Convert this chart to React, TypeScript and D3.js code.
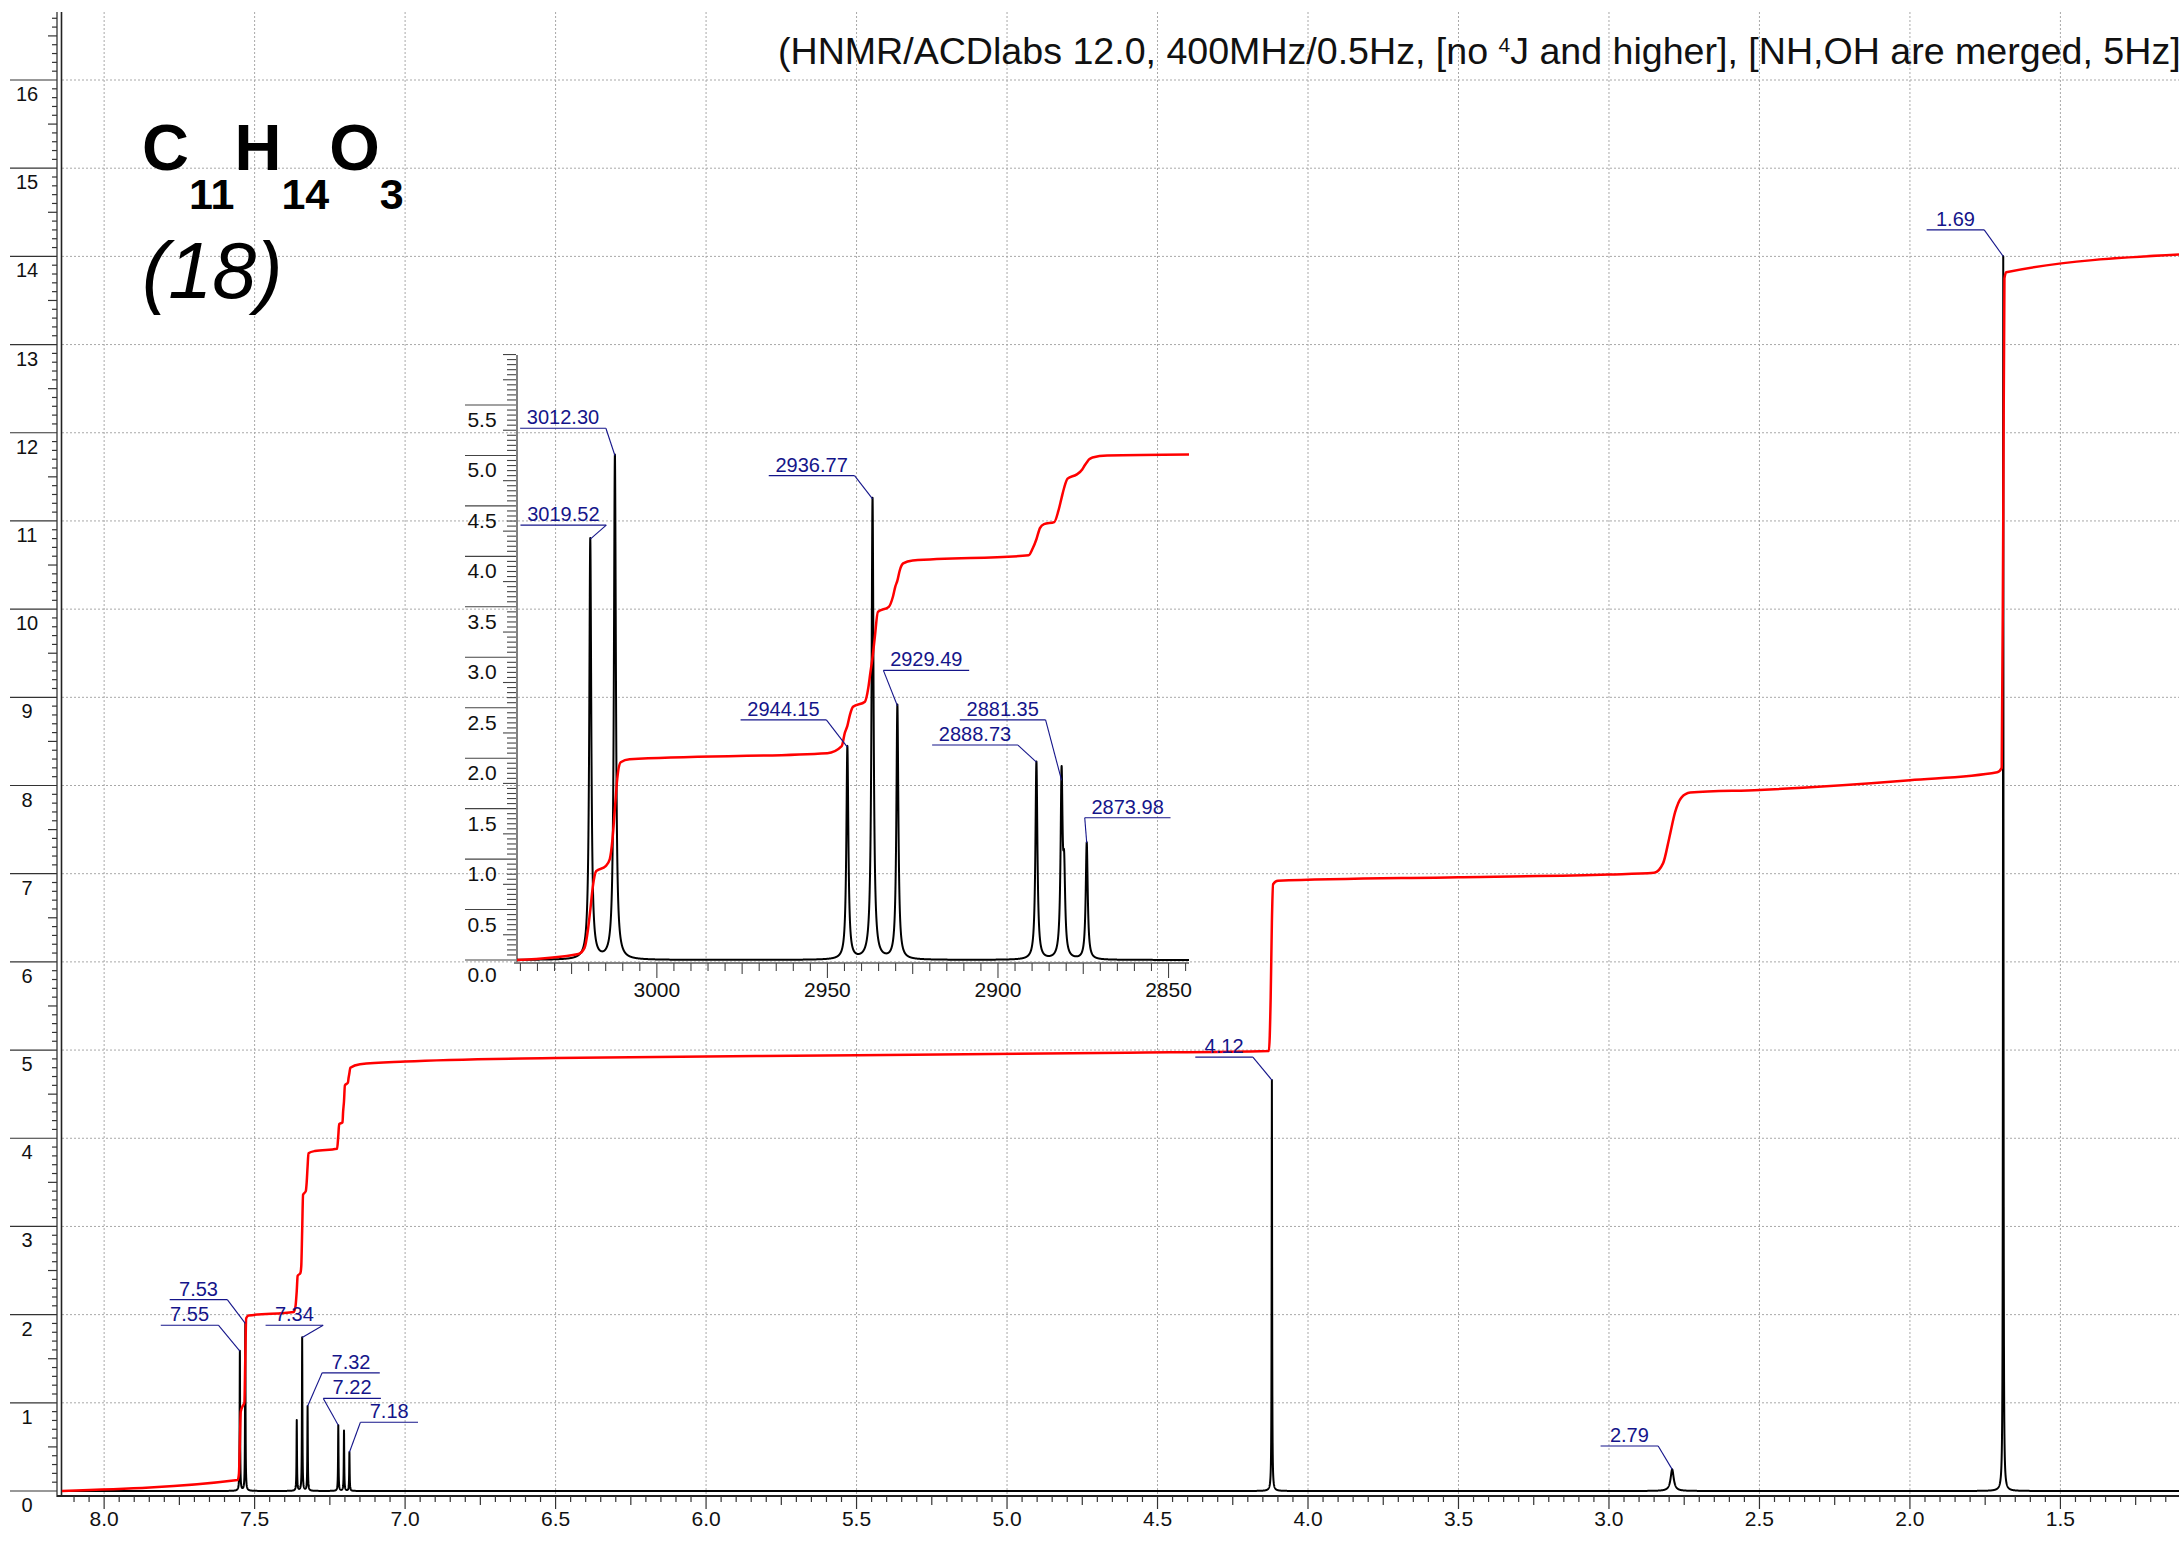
import React, { useMemo } from 'react';
import * as d3 from 'd3';

const W = 2179;
const H = 1543;

// ---- main spectrum peaks (ppm) ----
const mainPeakPpm = [7.549, 7.531, 7.36, 7.342, 7.324, 7.222, 7.203, 7.185, 4.12, 2.79, 1.69];
const mainPeakHeight = [1.585, 1.9, 0.8, 1.74, 0.96, 0.745, 0.684, 0.44, 4.66, 0.245, 14.0];
const mainPeakWidthHz = [0.7, 0.7, 0.7, 0.7, 0.7, 0.7, 0.7, 0.7, 0.7, 5, 0.7];

// ---- inset peaks (Hz) ----
const insetPeakHz = [3019.52, 3012.3, 2944.15, 2936.77, 2929.49, 2888.73, 2881.35, 2880.6, 2873.98];
const insetPeakHeight = [4.17, 5.0, 2.11, 4.57, 2.52, 1.96, 1.78, 0.75, 1.16];
const insetPeakWidthHz = 0.7;

// ---- peak labels ----
const mainLabelText = ['7.55', '7.53', '7.34', '7.32', '7.22', '7.18', '4.12', '2.79', '1.69'];
const mainLabelPeak = [0, 1, 3, 4, 5, 7, 8, 9, 10];
const insetLabelText = ['3019.52', '3012.30', '2944.15', '2936.77', '2929.49', '2888.73', '2881.35', '2873.98'];
const insetLabelPeak = [0, 1, 2, 3, 4, 5, 6, 8];

// label layout (level in axis units, attached end, pixel offset of that end from the peak)
const mainLabelLevel = [1.88, 2.17, 1.88, 1.34, 1.05, 0.78, 4.92, 0.51, 14.3];
const mainLabelEnd = ['r', 'r', 'r', 'l', 'l', 'l', 'r', 'r', 'r'];
const mainLabelDx = [-21.5, -18, 21, 14.6, -15, 11, -19, -14, -19];
const insetLabelLevel = [4.31, 5.27, 2.38, 4.8, 2.87, 2.13, 2.38, 1.41];
const insetLabelEnd = ['r', 'r', 'r', 'r', 'l', 'r', 'r', 'l'];
const insetLabelDx = [16, -9, -21, -18, -14, -18.5, -16, -2];

// ---- integral curves ----
const mainIntegral: [number, number][] = [
  [8.14, 0.0], [7.556, 0.125], [7.552, 0.2], [7.549, 0.55], [7.546, 0.9], [7.54, 0.96],
  [7.534, 1.0], [7.531, 1.5], [7.528, 1.96], [7.52, 1.99], [7.37, 2.03], [7.364, 2.1],
  [7.36, 2.27], [7.357, 2.44], [7.348, 2.47], [7.345, 2.55], [7.342, 2.95], [7.339, 3.36],
  [7.33, 3.4], [7.327, 3.5], [7.324, 3.68], [7.321, 3.83], [7.3, 3.855], [7.226, 3.88],
  [7.222, 4.03], [7.219, 4.16], [7.208, 4.18], [7.206, 4.3], [7.203, 4.42], [7.2, 4.6],
  [7.19, 4.63], [7.188, 4.68], [7.185, 4.74], [7.182, 4.8], [7.15, 4.84], [7.0, 4.87],
  [6.5, 4.91], [5.5, 4.94], [4.6, 4.97], [4.13, 4.99], [4.124, 5.6], [4.12, 6.45],
  [4.116, 6.88], [4.1, 6.92], [3.5, 6.96], [3.0, 6.99], [2.85, 7.01], [2.82, 7.12],
  [2.8, 7.4], [2.78, 7.7], [2.76, 7.86], [2.73, 7.92], [2.5, 7.95], [2.0, 8.06],
  [1.71, 8.15], [1.695, 8.2], [1.69, 11.0], [1.686, 13.75], [1.68, 13.82], [1.106, 14.02],
];
const insetIntegral: [number, number][] = [
  [3041, 0.0], [3023, 0.06], [3021.2, 0.12], [3020.2, 0.3], [3019.5, 0.5], [3018.8, 0.72],
  [3017.8, 0.88], [3015, 0.93], [3013.8, 1.0], [3013, 1.2], [3012.3, 1.5], [3011.6, 1.8],
  [3010.6, 1.96], [3008, 1.99], [2950, 2.05], [2945.8, 2.12], [2944.9, 2.25], [2944.15, 2.32],
  [2943.4, 2.43], [2942.5, 2.51], [2939, 2.56], [2938, 2.7], [2937.4, 2.85], [2936.77, 3.0],
  [2936.1, 3.2], [2935.2, 3.45], [2932, 3.5], [2930.8, 3.6], [2930.1, 3.7], [2929.49, 3.76],
  [2928.8, 3.86], [2927.8, 3.93], [2925, 3.96], [2891, 4.01], [2889.8, 4.08], [2888.73, 4.17],
  [2887.7, 4.28], [2886.5, 4.32], [2883.5, 4.34], [2882.3, 4.45], [2881.35, 4.58], [2880.6, 4.68],
  [2879.6, 4.77], [2877, 4.81], [2875.3, 4.86], [2874.6, 4.9], [2873.98, 4.93], [2873.3, 4.96],
  [2872.3, 4.98], [2868, 5.0], [2844, 5.01],
];

const FONT = "'Liberation Sans', Arial, Helvetica, sans-serif";
const NAVY = '#15158a';
const GRID = '#a8a8a8';

const xMain = d3.scaleLinear().domain([8.14, 1.106]).range([62, 2179]);
const yMain = d3.scaleLinear().domain([0, 16]).range([1491, 80]);
const xIn = d3.scaleLinear().domain([3041, 2844]).range([517, 1189]);
const yIn = d3.scaleLinear().domain([0, 5.5]).range([960, 405]);

function lorentzSum(x: number, pos: number[], h: number[], hw: number[]) {
  let s = 0;
  for (let i = 0; i < pos.length; i++) {
    const d = x - pos[i];
    s += (h[i] * hw[i] * hw[i]) / (d * d + hw[i] * hw[i]);
  }
  return s;
}

function labelW(t: string) {
  return 20 + 9.4 * t.length;
}

export default function App() {
  const mainPath = useMemo(() => {
    const hw = mainPeakWidthHz.map((w) => w / 400 / 2);
    const xs: number[] = [];
    for (let v = 8.14; v >= 1.106; v -= 0.0004) xs.push(v);
    mainPeakPpm.forEach((p) => xs.push(p));
    xs.sort((a, b) => b - a);
    const pts: [number, number][] = xs.map((v) => [xMain(v), yMain(lorentzSum(v, mainPeakPpm, mainPeakHeight, hw))]);
    return d3.line()(pts) || '';
  }, []);

  const insetPath = useMemo(() => {
    const hw = insetPeakHz.map(() => insetPeakWidthHz / 2);
    const xs: number[] = [];
    for (let v = 3041; v >= 2844; v -= 0.02) xs.push(v);
    insetPeakHz.forEach((p) => xs.push(p));
    xs.sort((a, b) => b - a);
    const pts: [number, number][] = xs.map((v) => [xIn(v), yIn(lorentzSum(v, insetPeakHz, insetPeakHeight, hw))]);
    return d3.line()(pts) || '';
  }, []);

  const mainIntPath =
    d3
      .line<[number, number]>()
      .x((d) => xMain(d[0]))
      .y((d) => yMain(d[1]))
      .curve(d3.curveMonotoneX)(mainIntegral) || '';
  const insetIntPath =
    d3
      .line<[number, number]>()
      .x((d) => xIn(d[0]))
      .y((d) => yIn(d[1]))
      .curve(d3.curveMonotoneX)(insetIntegral) || '';

  // axis ticks
  const xTicks = d3.range(23, 163).map((k) => ({ v: k / 20, major: k % 10 === 0, med: k % 5 === 0 }));
  const yTicks = d3.range(0, 168).map((k) => ({ v: k / 10, major: k % 10 === 0, med: k % 5 === 0 }));
  const inXTicks = d3.range(569, 609).map((k) => ({ v: k * 5, major: (k * 5) % 50 === 0, med: (k * 5) % 25 === 0 }));
  const inYTicks = d3.range(0, 121).map((k) => ({ v: k / 20, major: k % 10 === 0 && k <= 110, med: k % 5 === 0 }));

  const vGrid = d3.range(3, 17).map((k) => k / 2); // 1.5 .. 8.0
  const hGrid = d3.range(1, 17);

  const renderLabel = (
    key: string,
    text: string,
    px: number,
    py: number,
    ly: number,
    end: string,
    dx: number
  ) => {
    const w = labelW(text);
    const xe = px + dx;
    const x0 = end === 'r' ? xe - w : xe;
    const x1 = x0 + w;
    return (
      <g key={key}>
        <line x1={x0} y1={ly} x2={x1} y2={ly} stroke={NAVY} strokeWidth={1.1} />
        <line x1={xe} y1={ly} x2={px} y2={py} stroke={NAVY} strokeWidth={1.1} />
        <text x={(x0 + x1) / 2} y={ly - 4} fontSize={20} fill={NAVY} textAnchor="middle">
          {text}
        </text>
      </g>
    );
  };

  return (
    <svg
      width={W}
      height={H}
      style={{ position: 'absolute', left: 0, top: 0, background: '#fff' }}
      fontFamily={FONT}
    >
      <rect x={0} y={0} width={W} height={H} fill="#fff" />
      {/* grid */}
      {vGrid.map((v) => (
        <line key={'vg' + v} x1={xMain(v)} x2={xMain(v)} y1={12} y2={1496} stroke={GRID} strokeWidth={1} strokeDasharray="2 2" />
      ))}
      {hGrid.map((v) => (
        <line key={'hg' + v} x1={62} x2={W} y1={yMain(v)} y2={yMain(v)} stroke={GRID} strokeWidth={1} strokeDasharray="2 2" />
      ))}

      {/* main y axis */}
      <line x1={57} x2={57} y1={12} y2={1497} stroke="#333" strokeWidth={1.3} />
      <line x1={61.5} x2={61.5} y1={12} y2={1497} stroke="#222" strokeWidth={1.6} />
      {yTicks.map((t) => {
        const y = yMain(t.v);
        const x0 = t.major ? 10 : t.med ? 48 : 52;
        return <line key={'yt' + t.v} x1={x0} x2={57} y1={y} y2={y} stroke="#333" strokeWidth={1.2} />;
      })}
      {yTicks
        .filter((t) => t.major)
        .map((t) => (
          <text key={'yl' + t.v} x={27} y={yMain(t.v) + 21} fontSize={20} textAnchor="middle" fill="#111">
            {Math.round(t.v)}
          </text>
        ))}

      {/* main x axis */}
      <line x1={57} x2={W} y1={1496} y2={1496} stroke="#222" strokeWidth={1.8} />
      {xTicks.map((t) => {
        const x = xMain(t.v);
        const len = t.major ? 13 : t.med ? 9 : 6;
        return <line key={'xt' + t.v} x1={x} x2={x} y1={1496} y2={1496 + len} stroke="#333" strokeWidth={1.2} />;
      })}
      {xTicks
        .filter((t) => t.major)
        .map((t) => (
          <text key={'xl' + t.v} x={xMain(t.v)} y={1526} fontSize={21} textAnchor="middle" fill="#111">
            {t.v.toFixed(1)}
          </text>
        ))}

      {/* title */}
      <text x={778} y={64} fontSize={37.6} fill="#111">
        (HNMR/ACDlabs 12.0, 400MHz/0.5Hz, [no{' '}
        <tspan fontSize={21} dy={-12}>
          4
        </tspan>
        <tspan dy={12}>J and higher], [NH,OH are merged, 5Hz])</tspan>
      </text>

      {/* formula */}
      <text x={142} y={170} fontSize={65} fontWeight="bold" fill="#000">
        C
        <tspan fontSize={43} dy={39}>
          11
        </tspan>
        <tspan dy={-39}>H</tspan>
        <tspan fontSize={43} dy={39}>
          14
        </tspan>
        <tspan dy={-39}>O</tspan>
        <tspan fontSize={43} dy={39}>
          3
        </tspan>
      </text>
      <text x={142} y={298} fontSize={79} fontStyle="italic" fill="#000">
        (18)
      </text>

      {/* main spectrum */}
      <path d={mainPath} fill="none" stroke="#000" strokeWidth={2} strokeLinejoin="round" />
      <path d={mainIntPath} fill="none" stroke="#ff0000" strokeWidth={2.5} strokeLinejoin="round" />

      {/* main labels */}
      {mainLabelText.map((t, i) => {
        const pi = mainLabelPeak[i];
        return renderLabel(
          'ml' + i,
          t,
          xMain(mainPeakPpm[pi]),
          yMain(mainPeakHeight[pi]),
          yMain(mainLabelLevel[i]),
          mainLabelEnd[i],
          mainLabelDx[i]
        );
      })}

      {/* inset axes */}
      <line x1={517} x2={517} y1={355} y2={964} stroke="#808080" strokeWidth={2} />
      {inYTicks.map((t) => {
        const y = yIn(t.v);
        const x0 = t.major ? 465 : t.med ? 503 : 507;
        return <line key={'iyt' + t.v} x1={x0} x2={516} y1={y} y2={y} stroke="#444" strokeWidth={1.1} />;
      })}
      {inYTicks
        .filter((t) => t.major)
        .map((t) => (
          <text key={'iyl' + t.v} x={482} y={yIn(t.v) + 22} fontSize={21} textAnchor="middle" fill="#111">
            {t.v.toFixed(1)}
          </text>
        ))}
      <line x1={514} x2={1189} y1={963} y2={963} stroke="#808080" strokeWidth={2} />
      {inXTicks.map((t) => {
        const x = xIn(t.v);
        const len = t.major ? 15 : t.med ? 11 : 8;
        return <line key={'ixt' + t.v} x1={x} x2={x} y1={963} y2={963 + len} stroke="#444" strokeWidth={1.1} />;
      })}
      {inXTicks
        .filter((t) => t.major)
        .map((t) => (
          <text key={'ixl' + t.v} x={xIn(t.v)} y={997} fontSize={21} textAnchor="middle" fill="#111">
            {t.v}
          </text>
        ))}

      {/* inset spectrum */}
      <path d={insetPath} fill="none" stroke="#000" strokeWidth={2} strokeLinejoin="round" />
      <path d={insetIntPath} fill="none" stroke="#ff0000" strokeWidth={2.5} strokeLinejoin="round" />

      {insetLabelText.map((t, i) => {
        const pi = insetLabelPeak[i];
        return renderLabel(
          'il' + i,
          t,
          xIn(insetPeakHz[pi]),
          yIn(insetPeakHeight[pi]),
          yIn(insetLabelLevel[i]),
          insetLabelEnd[i],
          insetLabelDx[i]
        );
      })}
    </svg>
  );
}
